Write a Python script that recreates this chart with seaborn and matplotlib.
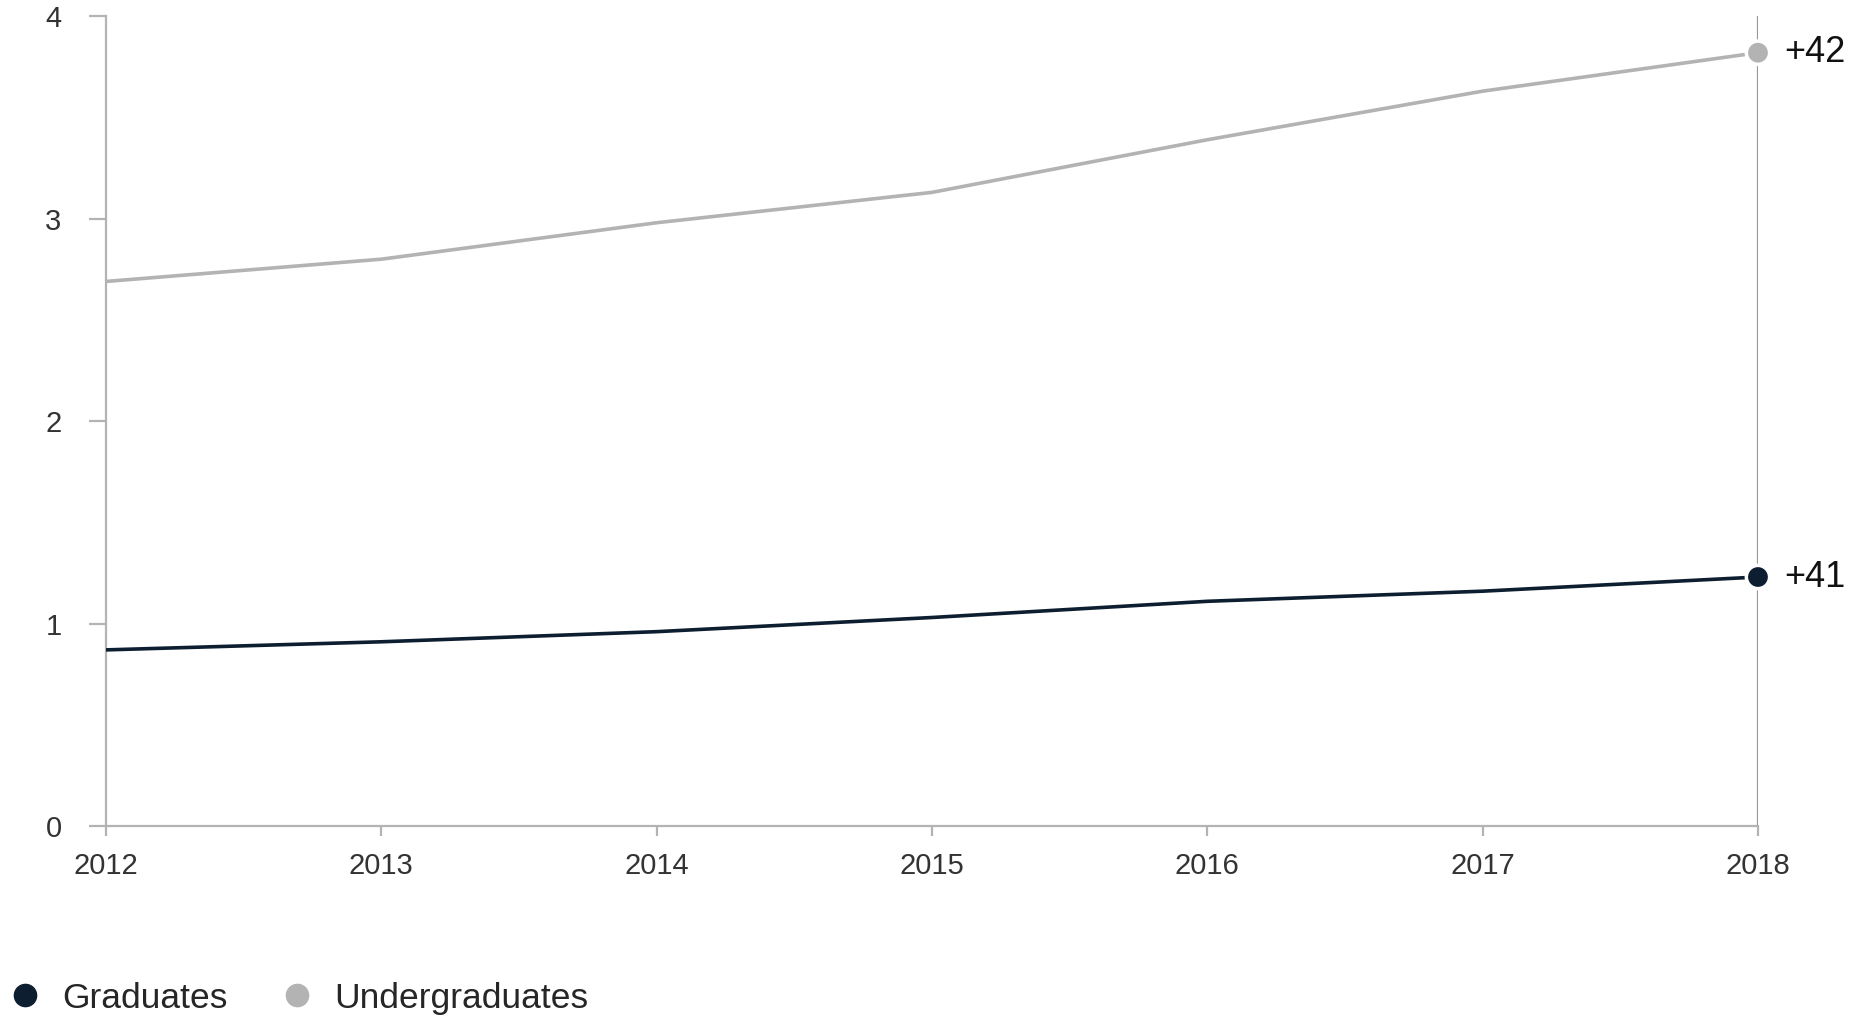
import matplotlib
matplotlib.use("Agg")
import matplotlib.pyplot as plt
from matplotlib.lines import Line2D
import seaborn as sns
import pandas as pd

years = [2012, 2013, 2014, 2015, 2016, 2017, 2018]
graduates = [0.87, 0.91, 0.96, 1.03, 1.11, 1.16, 1.23]
undergraduates = [2.69, 2.80, 2.98, 3.13, 3.39, 3.63, 3.82]
series_names = ["Graduates", "Undergraduates"]
change_labels = ["+41", "+42"]
y_ticks = [0, 1, 2, 3, 4]

colors = {"Graduates": "#0d1e30", "Undergraduates": "#b3b3b3"}
axis_grey = "#b3b3b3"

sns.set_theme(style="white")
plt.rcParams["font.family"] = ["Liberation Sans", "DejaVu Sans"]

df = pd.DataFrame({
    "year": years * 2,
    "value": graduates + undergraduates,
    "series": ["Graduates"] * len(years) + ["Undergraduates"] * len(years),
})

fig = plt.figure(figsize=(18.67, 10.16), dpi=100)
ax = fig.add_axes([0.0568, 0.187, 0.8848, 0.797])

# marker line at the last year
ax.axvline(2018, ymin=0, ymax=1, color="#999999", lw=1.6, zorder=1)

sns.lineplot(data=df, x="year", y="value", hue="series", palette=colors,
             hue_order=series_names, lw=2.6, legend=False, ax=ax, zorder=3)

last = df[df["year"] == years[-1]]
sns.scatterplot(data=last, x="year", y="value", hue="series", palette=colors,
                hue_order=series_names, s=280, edgecolor="white", linewidth=2.5,
                legend=False, ax=ax, zorder=5, clip_on=False)

for name, label in zip(series_names, change_labels):
    v = df[(df["series"] == name) & (df["year"] == years[-1])]["value"].iloc[0]
    ax.annotate(label, xy=(years[-1], v), xytext=(19, 0), textcoords="offset points",
                va="center", ha="left", fontsize=26, color="#111111",
                annotation_clip=False)

ax.set_xlim(years[0], years[-1])
ax.set_ylim(0, 4)
ax.set_xticks(years)
ax.set_xticklabels([str(y) for y in years])
ax.set_yticks(y_ticks)
ax.set_yticklabels([str(t) for t in y_ticks])
ax.set_xlabel("")
ax.set_ylabel("")

for side in ["top", "right"]:
    ax.spines[side].set_visible(False)
for side in ["left", "bottom"]:
    ax.spines[side].set_color(axis_grey)
    ax.spines[side].set_linewidth(1.6)

ax.tick_params(axis="y", length=12, width=1.6, color=axis_grey, pad=20,
               labelsize=21, labelcolor="#333333", left=True)
ax.tick_params(axis="x", length=7, width=1.6, color=axis_grey, pad=12,
               labelsize=21, labelcolor="#333333", bottom=True)

handles = [Line2D([0], [0], marker="o", linestyle="", markersize=16,
                  markerfacecolor=colors[n], markeredgecolor=colors[n])
           for n in series_names]
fig.legend(handles, series_names, loc="center left", bbox_to_anchor=(0.002, 0.0177),
           ncol=2, frameon=False, fontsize=25.5, handletextpad=0.55,
           columnspacing=1.45, borderpad=0.0, borderaxespad=0.1, handlelength=1.0)

fig.savefig("out.png", dpi=100, facecolor="white")
